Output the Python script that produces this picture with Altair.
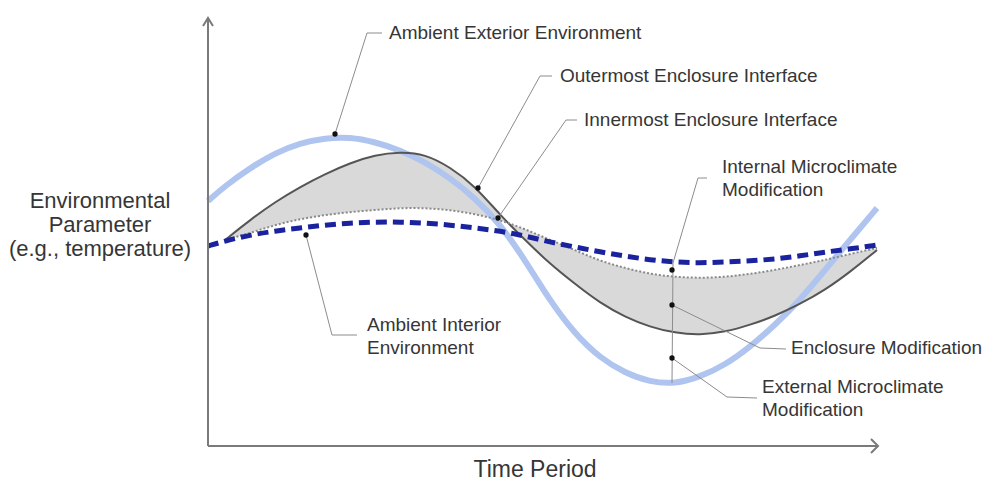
import altair as alt
import pandas as pd

# ---- data (time units along x, parameter units along y) ----
ENCL_TIME = [25, 50, 75, 100, 125, 150, 175, 200, 225, 250, 275, 300, 325, 350,
             375, 400, 425, 450, 475, 500, 525, 550, 575, 600, 625, 650, 677]
AMB_TIME = [8] + ENCL_TIME

EXTERIOR = [245, 260, 278, 293, 303, 308, 309, 304, 296, 284, 268, 248, 222, 186,
            145, 112, 88, 73, 64, 62, 69, 81, 99, 121, 146, 176, 206, 238]
OUTERMOST = [206, 226, 244, 259, 272, 283, 291, 294, 292, 279, 260, 231, 206, 182,
             162, 143, 129, 119, 113, 111, 114, 121, 130, 142, 156, 174, 196]
INNERMOST = [206, 213, 221, 227, 231, 234, 236, 238, 238, 236, 232, 226, 217, 206,
             196, 185, 178, 172, 169, 168, 169, 172, 176, 181, 186, 192, 198]
INTERIOR = [200, 205, 211, 215, 218, 221, 223, 224, 224, 223, 221, 218, 215, 210,
            204, 199, 194, 190, 186, 184, 183, 184, 185, 187, 190, 194, 197, 201]

# axes with arrowheads (polylines)
AXIS_ID = ["y", "y", "x", "x", "ya", "ya", "ya", "xa", "xa", "xa"]
AXIS_X = [8, 8, 8, 678, 3, 8, 13, 671, 678, 671]
AXIS_Y = [0, 428, 0, 0, 420, 428, 420, 7, 0, -7]

# leader lines (polylines)
LEAD_ID = ["ext", "ext", "ext", "out", "out", "out", "inn", "inn", "inn",
           "imc", "imc", "imc", "imc", "enc", "enc", "enc", "emc", "emc", "emc",
           "int", "int", "int"]
LEAD_X = [135, 167, 182, 278, 340, 352, 298, 366, 377,
          507, 498, 473, 472, 472, 560, 586, 472, 527, 557,
          106, 132, 157]
LEAD_Y = [312, 413, 413, 258, 370, 370, 228, 326, 326,
          268, 268, 183, 63, 141, 98, 97, 88, 49, 48,
          211, 111, 111]

# annotation dots
DOT_X = [135, 278, 298, 472, 472, 472, 106]
DOT_Y = [312, 258, 228, 176, 141, 88, 211]

# annotation labels
LABELS = ["Ambient Exterior Environment", "Outermost Enclosure Interface",
          "Innermost Enclosure Interface", "Internal Microclimate", "Modification",
          "Enclosure Modification", "External Microclimate", "Modification",
          "Ambient Interior", "Environment"]
LABEL_X = [189, 360, 384, 522, 522, 591, 562, 562, 167, 167]
LABEL_Y = [413, 370, 326, 279, 256, 98, 59, 36, 121, 98]

YTITLE = ["Environmental", "Parameter", "(e.g., temperature)"]
YTITLE_X = [-100, -100, -100]
YTITLE_Y = [245, 221, 197]
XTITLE = ["Time Period"]
XTITLE_X = [335]
XTITLE_Y = [-24]

# ---- tables ----
amb = pd.DataFrame({"t": AMB_TIME, "exterior": EXTERIOR, "interior": INTERIOR})
enc = pd.DataFrame({"t": ENCL_TIME, "outer": OUTERMOST, "inner": INNERMOST})
axes_df = pd.DataFrame({"id": AXIS_ID, "x": AXIS_X, "y": AXIS_Y,
                        "seq": list(range(len(AXIS_ID)))})
lead_df = pd.DataFrame({"id": LEAD_ID, "x": LEAD_X, "y": LEAD_Y,
                        "seq": list(range(len(LEAD_ID)))})
dot_df = pd.DataFrame({"x": DOT_X, "y": DOT_Y})
lab_df = pd.DataFrame({"label": LABELS, "x": LABEL_X, "y": LABEL_Y})
yt_df = pd.DataFrame({"label": YTITLE, "x": YTITLE_X, "y": YTITLE_Y})
xt_df = pd.DataFrame({"label": XTITLE, "x": XTITLE_X, "y": XTITLE_Y})

XS = alt.Scale(domain=[8, 678], nice=False, zero=False)
YS = alt.Scale(domain=[0, 428], nice=False, zero=False)
FONT = "Liberation Sans"
TEXT_COLOR = "#363636"

def X(f):
    return alt.X(f, type="quantitative", scale=XS, axis=None)

def Y(f):
    return alt.Y(f, type="quantitative", scale=YS, axis=None)

fill = alt.Chart(enc).mark_area(color="#d9d9d9", interpolate="basis").encode(
    x=X("t"), y=Y("outer"), y2="inner")
ext_line = alt.Chart(amb).mark_line(color="#afc5ef", strokeWidth=6,
                                     interpolate="basis").encode(x=X("t"), y=Y("exterior"))
out_line = alt.Chart(enc).mark_line(color="#555555", strokeWidth=2,
                                     interpolate="basis").encode(x=X("t"), y=Y("outer"))
inn_line = alt.Chart(enc).mark_line(color="#8a8a8a", strokeWidth=2, strokeDash=[2, 2],
                                     interpolate="basis").encode(x=X("t"), y=Y("inner"))
int_line = alt.Chart(amb).mark_line(color="#1b229e", strokeWidth=5, strokeDash=[11, 6],
                                     interpolate="basis").encode(x=X("t"), y=Y("interior"))

axes = alt.Chart(axes_df).mark_line(color="#7a7a7a", strokeWidth=2).encode(
    x=X("x"), y=Y("y"), detail="id:N", order="seq:Q")
leads = alt.Chart(lead_df).mark_line(color="#8c8c8c", strokeWidth=1).encode(
    x=X("x"), y=Y("y"), detail="id:N", order="seq:Q")
dots = alt.Chart(dot_df).mark_point(filled=True, color="#111111", size=28, opacity=1).encode(
    x=X("x"), y=Y("y"))
labels = alt.Chart(lab_df).mark_text(align="left", baseline="middle", font=FONT,
                                      fontSize=19, color=TEXT_COLOR).encode(
    x=X("x"), y=Y("y"), text="label:N")
ytitle = alt.Chart(yt_df).mark_text(align="center", baseline="middle", font=FONT,
                                     fontSize=22, color=TEXT_COLOR).encode(
    x=X("x"), y=Y("y"), text="label:N")
xtitle = alt.Chart(xt_df).mark_text(align="center", baseline="middle", font=FONT,
                                     fontSize=23, color=TEXT_COLOR).encode(
    x=X("x"), y=Y("y"), text="label:N")

chart = alt.layer(fill, ext_line, out_line, inn_line, int_line, axes, leads, dots,
                  labels, ytitle, xtitle).properties(
    width=670, height=428,
    padding={"left": 200, "top": 10, "right": 107, "bottom": 35},
    autosize=alt.AutoSizeParams(type="none"),
    background="white",
).configure_view(stroke=None)

chart.save("out.html", embed_options={"renderer": "svg", "actions": False})
